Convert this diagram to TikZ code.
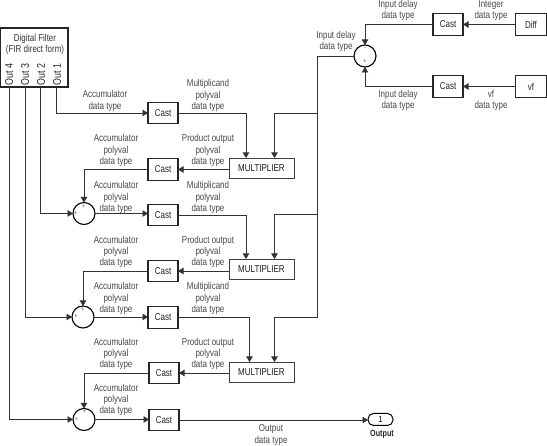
\documentclass[tikz,border=0pt]{standalone}
\usepackage{fontspec}
\setmainfont[FakeStretch=0.8]{Liberation Sans}
\usetikzlibrary{arrows.meta,calc}
\tikzset{
  every node/.style={outer sep=0pt,inner sep=0pt},
  captxt/.style={font=\fontsize{10}{11.3}\selectfont,text=black!72,align=center},
  castbox/.style={draw=black!85,line width=1.1pt,minimum width=30pt,minimum height=21.5pt,font=\fontsize{10}{11}\selectfont,text=black!85},
  multbox/.style={draw=black!75,line width=0.8pt,minimum width=65pt,minimum height=20pt,font=\fontsize{10}{11}\selectfont,text=black!90},
  sumnode/.style={draw=black,circle,line width=1.1pt,minimum size=22pt},
  sign/.style={font=\fontsize{6.5}{6.5}\selectfont,text=black!70},
  wire/.style={draw=black!80,line width=0.85pt},
  arr/.style={wire,-{Triangle[length=5.5pt,width=6.5pt]}},
  outlab/.style={rotate=90,font=\fontsize{11}{12}\selectfont,text=black!85}
}
\begin{document}
\begin{tikzpicture}[x=1pt,y=-1pt]
\useasboundingbox (0,0) rectangle (547,446);
% filter
\node[draw=black!85,line width=1.2pt,minimum width=67.5pt,minimum height=59pt] (filter) at (34.2,57.5) {};
\node[captxt,text=black!80] (ftitle) at (35,44.5) {Digital Filter\\(FIR direct form)};
\node[outlab] (o4) at (9,74.5) {Out 4};
\node[outlab] (o3) at (25,74.5) {Out 3};
\node[outlab] (o2) at (41,74.5) {Out 2};
\node[outlab] (o1) at (57,74.5) {Out 1};
\coordinate (f4) at (9,87);
\coordinate (f3) at (25,87);
\coordinate (f2) at (40.5,87);
\coordinate (f1) at (56,87);
% casts
\node[castbox] (c1) at (163,113) {Cast};
\node[castbox] (c2) at (163,169.5) {Cast};
\node[castbox] (c3) at (163,215) {Cast};
\node[castbox] (c4) at (163,271) {Cast};
\node[castbox] (c5) at (163,317.5) {Cast};
\node[castbox] (c6) at (164,373) {Cast};
\node[castbox] (c7) at (164,420) {Cast};
\node[castbox] (c8) at (448,24.5) {Cast};
\node[castbox] (c9) at (448,86.5) {Cast};
\node[castbox,minimum width=31pt] (diff) at (531,24.5) {Diff};
\node[castbox,minimum width=31pt] (vf) at (531,86.5) {vf};
% multipliers
\node[multbox] (m1) at (261.5,168) {MULTIPLIER};
\node[multbox] (m2) at (261.5,269) {MULTIPLIER};
\node[multbox] (m3) at (261.5,372) {MULTIPLIER};
% sums
\node[sumnode] (s0) at (365,56) {};
\node[sumnode] (s1) at (84,213.5) {};
\node[sumnode] (s2) at (83,317) {};
\node[sumnode] (s3) at (84,419.5) {};
\node[sign] at (365,49) {-};
\node[sign] at (365,62) {+};
\node[sign] at (83.5,206.5) {+};
\node[sign] at (76,214) {+};
\node[sign] at (83,309.5) {+};
\node[sign] at (76,317) {+};
\node[sign] at (84.5,412) {+};
\node[sign] at (76.5,419.5) {+};
% output port
\node[draw=black,rounded corners=5.5pt,line width=1pt,minimum width=25pt,minimum height=12pt,font=\fontsize{9}{9}\selectfont] (port) at (380.5,419.5) {1};
\node[font=\fontsize{9}{11}\bfseries\selectfont,text=black!85] (outname) at (382,434) {Output};
% bus
\coordinate (b0) at (317.5,56);
\coordinate (b1) at (317.5,113);
\coordinate (b2) at (317.5,214);
\coordinate (b3) at (317.5,317);
% wires
\draw[arr] (f1) |- (c1.west);
\draw[arr] (c1.east) -| ($(m1.north west)+(17,0)$);
\draw[arr] (m1.west|-c2.east) -- (c2.east);
\draw[arr] (c2.west) -| (s1.north);
\draw[arr] (f2) |- (s1.west);
\draw[arr] (s1.east) -- (c3.west|-s1.east);
\draw[arr] (c3.east) -| ($(m2.north west)+(17,0)$);
\draw[arr] (m2.west|-c4.east) -- (c4.east);
\draw[arr] (c4.west) -| (s2.north);
\draw[arr] (f3) |- (s2.west);
\draw[arr] (s2.east) -- (c5.west|-s2.east);
\draw[arr] (c5.east) -| ($(m3.north west)+(20.5,0)$);
\draw[arr] (m3.west|-c6.east) -- (c6.east);
\draw[arr] (c6.west) -| (s3.north);
\draw[arr] (f4) |- (s3.west);
\draw[arr] (s3.east) -- (c7.west|-s3.east);
\draw[arr] (c7.east) -- (port.west|-c7.east);
\draw[arr] (diff.west) -- (c8.east);
\draw[arr] (vf.west) -- (c9.east);
\draw[arr] (c8.west) -| (s0.north);
\draw[arr] (c9.west) -| (s0.south);
\draw[wire] (s0.west) -- (b0) -- (b3);
\draw[arr] (b1) -| ($(m1.north east)+(-19.5,0)$);
\draw[arr] (b2) -| ($(m2.north east)+(-19.5,0)$);
\draw[arr] (b3) -| ($(m3.north east)+(-19.5,0)$);
% labels
\node[captxt] (t1) at (105,101) {Accumulator\\data type};
\node[captxt] (t2) at (208,95.5) {Multiplicand\\polyval\\data type};
\node[captxt] (t3) at (116,150.5) {Accumulator\\polyval\\data type};
\node[captxt] (t4) at (208,150.5) {Product output\\polyval\\data type};
\node[captxt] (t5) at (116,197.5) {Accumulator\\polyval\\data type};
\node[captxt] (t6) at (208,197.5) {Multiplicand\\polyval\\data type};
\node[captxt] (t7) at (116,252) {Accumulator\\polyval\\data type};
\node[captxt] (t8) at (208,252) {Product output\\polyval\\data type};
\node[captxt] (t9) at (116,298.5) {Accumulator\\polyval\\data type};
\node[captxt] (t10) at (208,298.5) {Multiplicand\\polyval\\data type};
\node[captxt] (t11) at (116,354) {Accumulator\\polyval\\data type};
\node[captxt] (t12) at (208,354) {Product output\\polyval\\data type};
\node[captxt] (t13) at (116,400) {Accumulator\\polyval\\data type};
\node[captxt] (t14) at (271,435) {Output\\data type};
\node[captxt] (t15) at (398,10.5) {Input delay\\data type};
\node[captxt] (t16) at (491,10.5) {Integer\\data type};
\node[captxt] (t17) at (336,41.5) {Input delay\\data type};
\node[captxt] (t18) at (398,100.5) {Input delay\\data type};
\node[captxt] (t19) at (491,100.5) {vf\\data type};
\end{tikzpicture}
\end{document}
